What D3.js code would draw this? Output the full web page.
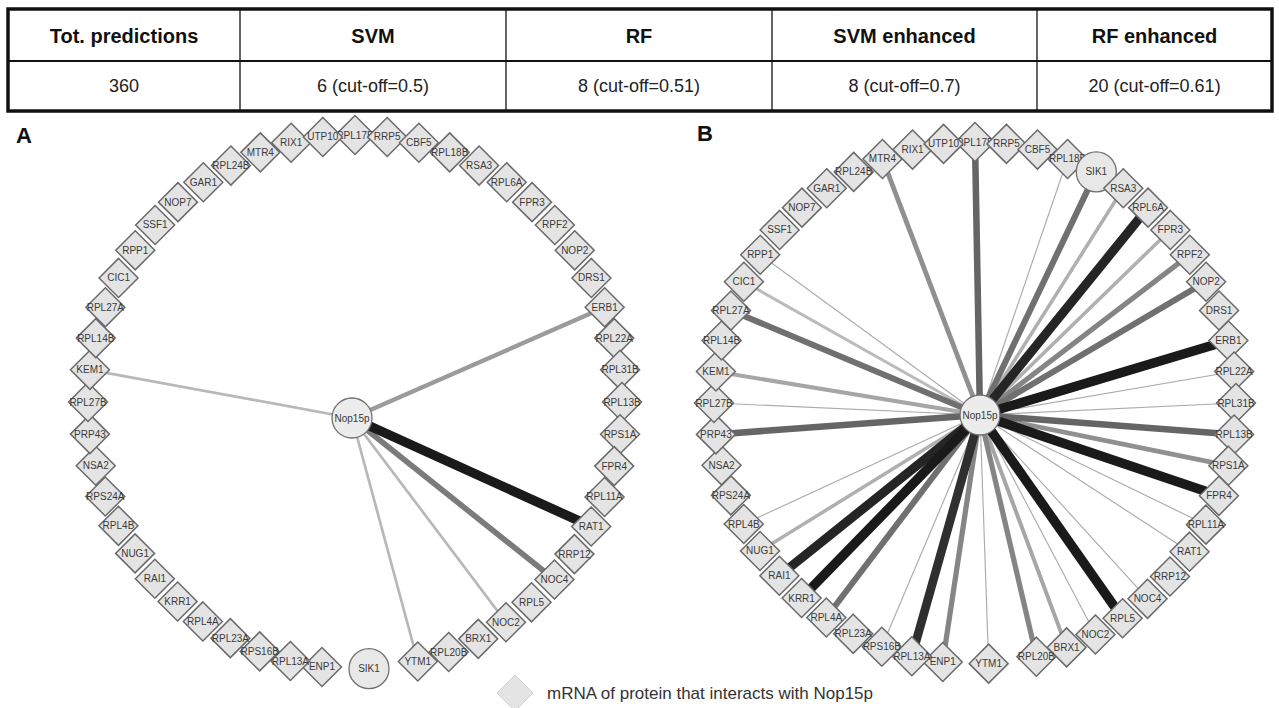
<!DOCTYPE html>
<html>
<head>
<meta charset="utf-8">
<script src="https://cdn.jsdelivr.net/npm/d3@7"></script>
<style>
  body { margin: 0; background: #fff; }
  svg { display: block; font-family: "Liberation Sans", Arial, sans-serif; }
</style>
</head>
<body>
<div id="container"></div>
<script>
// table contents
const tableHeaders = ["Tot. predictions", "SVM", "RF", "SVM enhanced", "RF enhanced"];
const tableValues = ["360", "6 (cut-off=0.5)", "8 (cut-off=0.51)", "8 (cut-off=0.7)", "20 (cut-off=0.61)"];

// ring order (clockwise from the top) for both panels
const ringOrderA = ["RPL17B", "RRP5", "CBF5", "RPL18B", "RSA3", "RPL6A", "FPR3", "RPF2", "NOP2", "DRS1",
  "ERB1", "RPL22A", "RPL31B", "RPL13B", "RPS1A", "FPR4", "RPL11A", "RAT1", "RRP12", "NOC4", "RPL5",
  "NOC2", "BRX1", "RPL20B", "YTM1", "SIK1", "ENP1", "RPL13A", "RPS16B", "RPL23A", "RPL4A", "KRR1",
  "RAI1", "NUG1", "RPL4B", "RPS24A", "NSA2", "PRP43", "RPL27B", "KEM1", "RPL14B", "RPL27A", "CIC1",
  "RPP1", "SSF1", "NOP7", "GAR1", "RPL24B", "MTR4", "RIX1", "UTP10"];
const ringOrderB = ["RPL17B", "RRP5", "CBF5", "RPL18B", "SIK1", "RSA3", "RPL6A", "FPR3", "RPF2", "NOP2",
  "DRS1", "ERB1", "RPL22A", "RPL31B", "RPL13B", "RPS1A", "FPR4", "RPL11A", "RAT1", "RRP12", "NOC4",
  "RPL5", "NOC2", "BRX1", "RPL20B", "YTM1", "ENP1", "RPL13A", "RPS16B", "RPL23A", "RPL4A", "KRR1",
  "RAI1", "NUG1", "RPL4B", "RPS24A", "NSA2", "PRP43", "RPL27B", "KEM1", "RPL14B", "RPL27A", "CIC1",
  "RPP1", "SSF1", "NOP7", "GAR1", "RPL24B", "MTR4", "RIX1", "UTP10"];
const circleNodes = ["SIK1"];
const hubName = "Nop15p";

// predicted interactions and their (estimated) scores
const edgeTargetsA = ["KEM1", "ERB1", "RAT1", "NOC4", "NOC2", "YTM1"];
const edgeScoresA = [0.2, 0.4, 1.0, 0.55, 0.2, 0.2];

const edgeTargetsB = ["MTR4", "RPL17B", "RPL18B", "SIK1", "RSA3", "RPL6A", "FPR3", "RPF2", "NOP2", "ERB1",
  "RPL22A", "RPL31B", "RPL13B", "RPS1A", "FPR4", "RPL11A", "RAT1", "NOC4", "RPL5", "NOC2",
  "BRX1", "RPL20B", "YTM1", "ENP1", "RPL13A", "RPS16B", "RPL4A", "KRR1", "RAI1", "NUG1",
  "RPL4B", "PRP43", "RPL27B", "KEM1", "RPL27A", "CIC1", "RPP1"];
const edgeScoresB = [0.45, 0.65, 0.02, 0.6, 0.3, 0.95, 0.3, 0.5, 0.6, 1.0,
  0.02, 0.02, 0.65, 0.45, 1.0, 0.02, 0.02, 0.02, 1.0, 0.02,
  0.35, 0.5, 0.02, 0.5, 0.9, 0.02, 0.6, 1.0, 0.95, 0.3,
  0.02, 0.65, 0.02, 0.35, 0.6, 0.25, 0.02];

const legendLabel = "mRNA of protein that interacts with Nop15p";

const W = 1279, H = 708;
const svg = d3.select("#container").append("svg").attr("width", W).attr("height", H);
svg.append("rect").attr("width", W).attr("height", H).attr("fill", "#fff");

// ---- table ----
const colEdges = [8, 240, 506, 772, 1037, 1272];
const rowEdges = [9, 61, 111];
const table = svg.append("g");
tableHeaders.forEach((t, i) => {
  const cx = (colEdges[i] + colEdges[i + 1]) / 2;
  table.append("text").attr("x", cx).attr("y", (rowEdges[0] + rowEdges[1]) / 2 + 1)
    .attr("text-anchor", "middle").attr("dominant-baseline", "central")
    .attr("font-size", 20).attr("font-weight", "bold").attr("fill", "#111").text(t);
  table.append("text").attr("x", cx).attr("y", (rowEdges[1] + rowEdges[2]) / 2)
    .attr("text-anchor", "middle").attr("dominant-baseline", "central")
    .attr("font-size", 18).attr("fill", "#222").text(tableValues[i]);
});
colEdges.slice(1, -1).forEach(x => {
  table.append("line").attr("x1", x).attr("x2", x).attr("y1", rowEdges[0]).attr("y2", rowEdges[2])
    .attr("stroke", "#111").attr("stroke-width", 1.3);
});
table.append("line").attr("x1", colEdges[0]).attr("x2", colEdges[5]).attr("y1", rowEdges[1]).attr("y2", rowEdges[1])
  .attr("stroke", "#111").attr("stroke-width", 2.2);
table.append("rect").attr("x", colEdges[0]).attr("y", rowEdges[0])
  .attr("width", colEdges[5] - colEdges[0]).attr("height", rowEdges[2] - rowEdges[0])
  .attr("fill", "none").attr("stroke", "#111").attr("stroke-width", 3.5);

// ---- networks ----
const widthScale = d3.scaleLinear().domain([0, 1]).range([1, 9.5]);
const colorScale = d3.scaleLinear().domain([0, 0.25, 1]).range(["#ababab", "#bbbbbb", "#1a1a1a"]);
// circular layout: slots spread a little wider around the bottom of the ring
const angleDeg = d3.scaleLinear()
  .domain([0, 13, 24, 25, 26, 38, 51])
  .range([0, 90, 166.4, 177, 187.1, 270, 360]);

const drawNetwork = (cfg) => {
  const g = svg.append("g");
  const nodes = cfg.ring.map((name, i) => {
    const a = (angleDeg(i) - 90) * Math.PI / 180;
    return {
      name,
      x: cfg.cx + cfg.r * Math.cos(a),
      y: cfg.cy + cfg.r * Math.sin(a),
      circle: circleNodes.includes(name),
    };
  });
  const byName = new Map(nodes.map(d => [d.name, d]));
  const edges = cfg.targets.map((t, i) => ({ target: byName.get(t), score: cfg.scores[i] }));

  g.selectAll("line.edge")
    .data(edges.slice().sort((a, b) => a.score - b.score))
    .join("line")
    .attr("class", "edge")
    .attr("x1", cfg.hx).attr("y1", cfg.hy)
    .attr("x2", d => d.target.x).attr("y2", d => d.target.y)
    .attr("stroke", d => colorScale(d.score))
    .attr("stroke-width", d => widthScale(d.score));

  const node = g.selectAll("g.node").data(nodes).join("g")
    .attr("class", "node")
    .attr("transform", d => `translate(${d.x},${d.y})`);
  node.filter(d => !d.circle).append("path")
    .attr("d", "M0,-19.5L19.5,0L0,19.5L-19.5,0Z")
    .attr("fill", "#e4e4e4").attr("stroke", "#6a6a6a").attr("stroke-width", 1.5);
  node.filter(d => d.circle).append("circle")
    .attr("r", 20).attr("fill", "#e8e8e8").attr("stroke", "#707070").attr("stroke-width", 1.3);
  node.append("text")
    .attr("text-anchor", "middle").attr("dominant-baseline", "central")
    .attr("font-size", 10).attr("fill", "#3a3a3a")
    .text(d => d.name);

  const hub = g.append("g").attr("transform", `translate(${cfg.hx},${cfg.hy})`);
  hub.append("circle").attr("r", 20).attr("fill", "#ececec").attr("stroke", "#707070").attr("stroke-width", 1.3);
  hub.append("text").attr("text-anchor", "middle").attr("dominant-baseline", "central")
    .attr("font-size", 10).attr("fill", "#3a3a3a").text(hubName);

  svg.append("text").attr("x", cfg.lx).attr("y", cfg.ly)
    .attr("font-size", 22).attr("font-weight", "bold").attr("fill", "#111").text(cfg.label);
};

drawNetwork({ ring: ringOrderA, targets: edgeTargetsA, scores: edgeScoresA,
  cx: 355, cy: 402, r: 267, hx: 352, hy: 418, label: "A", lx: 16, ly: 143 });
drawNetwork({ ring: ringOrderB, targets: edgeTargetsB, scores: edgeScoresB,
  cx: 975, cy: 403, r: 261, hx: 980, hy: 415, label: "B", lx: 697, ly: 141 });

// ---- legend ----
const legend = svg.append("g").attr("transform", "translate(515,693)");
legend.append("path").attr("d", "M0,-18L18,0L0,18L-18,0Z")
  .attr("fill", "#e4e4e4").attr("stroke", "#cfcfcf").attr("stroke-width", 1);
legend.append("text").attr("x", 32).attr("y", 0).attr("dominant-baseline", "central")
  .attr("font-size", 17).attr("fill", "#333").text(legendLabel);
</script>
</body>
</html>
